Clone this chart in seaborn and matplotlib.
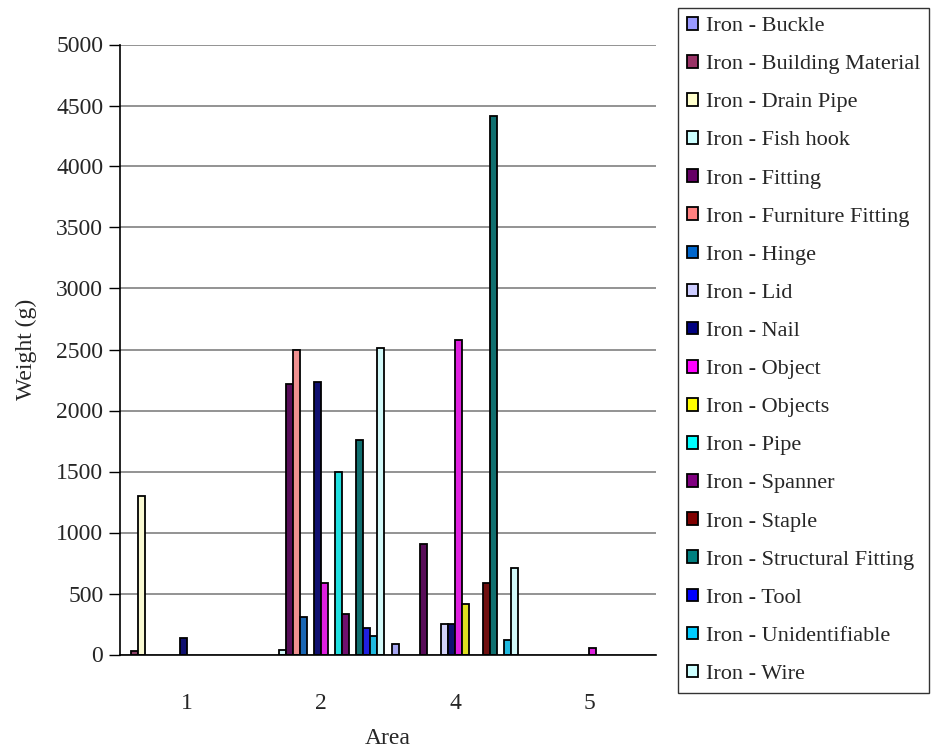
import matplotlib
matplotlib.use("Agg")
import matplotlib.pyplot as plt
import seaborn as sns
import pandas as pd
from matplotlib.patches import Patch

areas = ["1", "2", "4", "5"]
series = ["Iron - Buckle", "Iron - Building Material", "Iron - Drain Pipe", "Iron - Fish hook",
          "Iron - Fitting", "Iron - Furniture Fitting", "Iron - Hinge", "Iron - Lid",
          "Iron - Nail", "Iron - Object", "Iron - Objects", "Iron - Pipe",
          "Iron - Spanner", "Iron - Staple", "Iron - Structural Fitting", "Iron - Tool",
          "Iron - Unidentifiable", "Iron - Wire"]
buckle = [0, 0, 84, 0]
building_material = [30, 0, 0, 0]
drain_pipe = [1300, 0, 0, 0]
fish_hook = [0, 35, 0, 0]
fitting = [0, 2220, 905, 0]
furniture_fitting = [0, 2500, 0, 0]
hinge = [0, 310, 0, 0]
lid = [0, 0, 248, 0]
nail = [133, 2235, 248, 0]
object_ = [0, 590, 2575, 50]
objects = [0, 0, 410, 0]
pipe = [0, 1500, 0, 0]
spanner = [0, 330, 0, 0]
staple = [0, 0, 590, 0]
structural_fitting = [0, 1755, 4415, 0]
tool = [0, 215, 0, 0]
unidentifiable = [0, 148, 115, 0]
wire = [0, 2515, 707, 0]
values = [buckle, building_material, drain_pipe, fish_hook, fitting, furniture_fitting,
          hinge, lid, nail, object_, objects, pipe, spanner, staple, structural_fitting,
          tool, unidentifiable, wire]
colors = ["#9999FF", "#993366", "#FFFFCC", "#CCFFFF", "#660066", "#FF8080", "#0066CC",
          "#CCCCFF", "#000080", "#FF00FF", "#FFFF00", "#00FFFF", "#800080", "#800000",
          "#008080", "#0000FF", "#00CCFF", "#CCFFFF"]
yticks = [0, 500, 1000, 1500, 2000, 2500, 3000, 3500, 4000, 4500, 5000]

rows = []
for s, vals in zip(series, values):
    for a, v in zip(areas, vals):
        if v > 0:
            rows.append({"Area": a, "Series": s, "Weight": v})
df = pd.DataFrame(rows)

sns.set_style("white")
plt.rcParams["font.family"] = ["Liberation Serif", "DejaVu Serif"]

fig = plt.figure(figsize=(9.31, 7.51), dpi=100)
ax = fig.add_axes([120 / 931, 1 - 654.5 / 751, (656 - 120) / 931, (654.5 - 44.5) / 751])

sns.barplot(data=df, x="Area", y="Weight", hue="Series", order=areas, hue_order=series,
            palette=dict(zip(series, colors)), width=18 / 19, dodge=True,
            edgecolor="black", linewidth=1.3, errorbar=None, legend=False, ax=ax, zorder=3)

ax.set_xlim(-0.5, len(areas) - 0.5)
ax.set_ylim(0, 5000)
ax.set_yticks(yticks)
ax.set_yticklabels([str(t) for t in yticks])
ax.yaxis.grid(True, color="#808080", linewidth=1.2, zorder=0)
ax.set_axisbelow(True)

ax.set_xticks(range(len(areas)))
ax.set_xticklabels(areas)
ax.set_xticks([i - 0.5 for i in range(len(areas) + 1)], minor=True)
ax.tick_params(axis="x", which="major", length=0, pad=28, labelsize=17)
ax.tick_params(axis="x", which="minor", length=7, width=1, color="black", direction="out")
ax.tick_params(axis="y", which="major", length=8, width=1, color="black", direction="out",
               pad=4, labelsize=17, left=True)

for side in ["top", "right"]:
    ax.spines[side].set_visible(False)
for side in ["left", "bottom"]:
    ax.spines[side].set_color("black")
    ax.spines[side].set_linewidth(1.2)
    ax.spines[side].set_zorder(4)

ax.set_xlabel("Area", fontsize=17, labelpad=10)
ax.set_ylabel("Weight (g)", fontsize=17, labelpad=14)

handles = [Patch(facecolor=c, edgecolor="black", linewidth=1.3) for c in colors]
leg = fig.legend(handles, series, loc="upper left", bbox_to_anchor=(678 / 931, 1 - 8 / 751),
                 frameon=True, fancybox=False, edgecolor="black", fontsize=16,
                 handlelength=0.5, handleheight=0.5, handletextpad=0.35,
                 labelspacing=0.85, borderpad=0.4, borderaxespad=0)
leg.get_frame().set_linewidth(1.0)

fig.savefig("out.png", dpi=100, facecolor="white")
